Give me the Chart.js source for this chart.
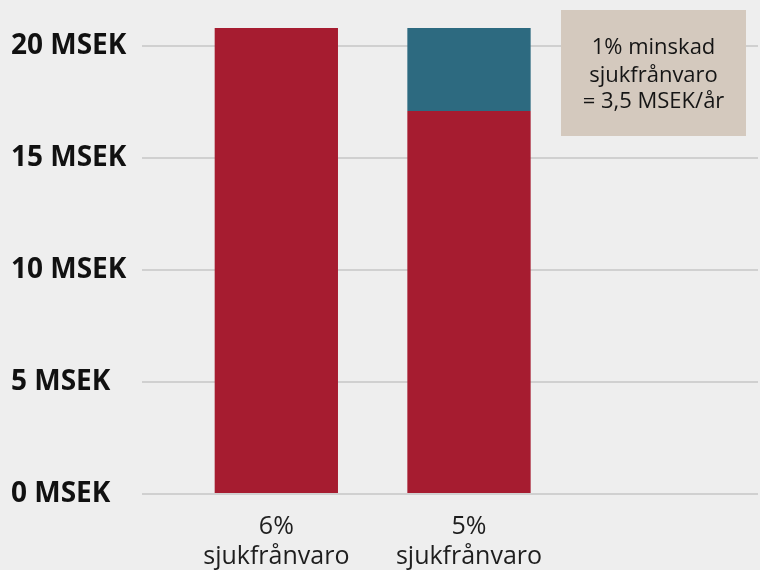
<!DOCTYPE html>
<html>
<head>
<meta charset="utf-8">
<script src="https://cdn.jsdelivr.net/npm/chart.js@4/dist/chart.umd.min.js"></script>
<style>
  html, body { margin: 0; padding: 0; background: #eeeeee; }
  #wrap { width: 760px; height: 570px; }
</style>
</head>
<body>
<div id="wrap"><canvas id="c" width="760" height="570"></canvas></div>
<script>
const categories = [['6%', 'sjukfrånvaro'], ['5%', 'sjukfrånvaro'], ''];
const kostnad = [20.8, 17.1, null];
const besparing = [0, 3.7, null];
const yTickValues = [0, 5, 10, 15, 20];
const yTickSuffix = ' MSEK';
const noteLines = ['1% minskad', 'sjukfrånvaro', '= 3,5 MSEK/år'];

const notePlugin = {
  id: 'note',
  afterDatasetsDraw(chart) {
    const ctx = chart.ctx;
    ctx.save();
    ctx.fillStyle = '#d4c9be';
    ctx.fillRect(561, 10, 185, 126);
    ctx.fillStyle = '#151515';
    ctx.font = '22px "Open Sans"';
    ctx.textAlign = 'center';
    ctx.textBaseline = 'middle';
    const ys = [48, 76, 102];
    noteLines.forEach((t, i) => ctx.fillText(t, 653.5, ys[i]));
    ctx.restore();
  }
};

new Chart(document.getElementById('c'), {
  type: 'bar',
  data: {
    labels: categories,
    datasets: [
      { label: 'Kostnad', data: kostnad, backgroundColor: '#a61c30', clip: false,
        categoryPercentage: 1, barPercentage: 0.64 },
      { label: 'Besparing', data: besparing, backgroundColor: '#2d6a80', clip: false,
        categoryPercentage: 1, barPercentage: 0.64 }
    ]
  },
  options: {
    responsive: false,
    animation: false,
    devicePixelRatio: 1,
    layout: { padding: { left: 11, right: 2, top: 46, bottom: 0 } },
    plugins: { legend: { display: false }, tooltip: { enabled: false } },
    scales: {
      x: {
        stacked: true,
        grid: { display: false, drawTicks: false },
        border: { display: false },
        ticks: { color: '#1e1e1e', font: { family: 'Open Sans', size: 25 }, padding: 18, maxRotation: 0, autoSkip: false },
        afterFit(s) { s.height = 76; }
      },
      y: {
        stacked: true,
        min: 0, max: 20,
        grid: { color: '#d0d0d0', lineWidth: 2, tickLength: 38, drawTicks: true },
        border: { display: false },
        afterBuildTicks(s) { s.ticks = yTickValues.map(v => ({ value: v })); },
        ticks: {
          color: '#111111',
          font: { family: 'Open Sans', size: 28, weight: 'bold' },
          crossAlign: 'far',
          padding: 10,
          callback: (v) => v + yTickSuffix
        },
        afterFit(s) { s.width = 169; }
      }
    }
  },
  plugins: [notePlugin]
});
</script>
</body>
</html>
